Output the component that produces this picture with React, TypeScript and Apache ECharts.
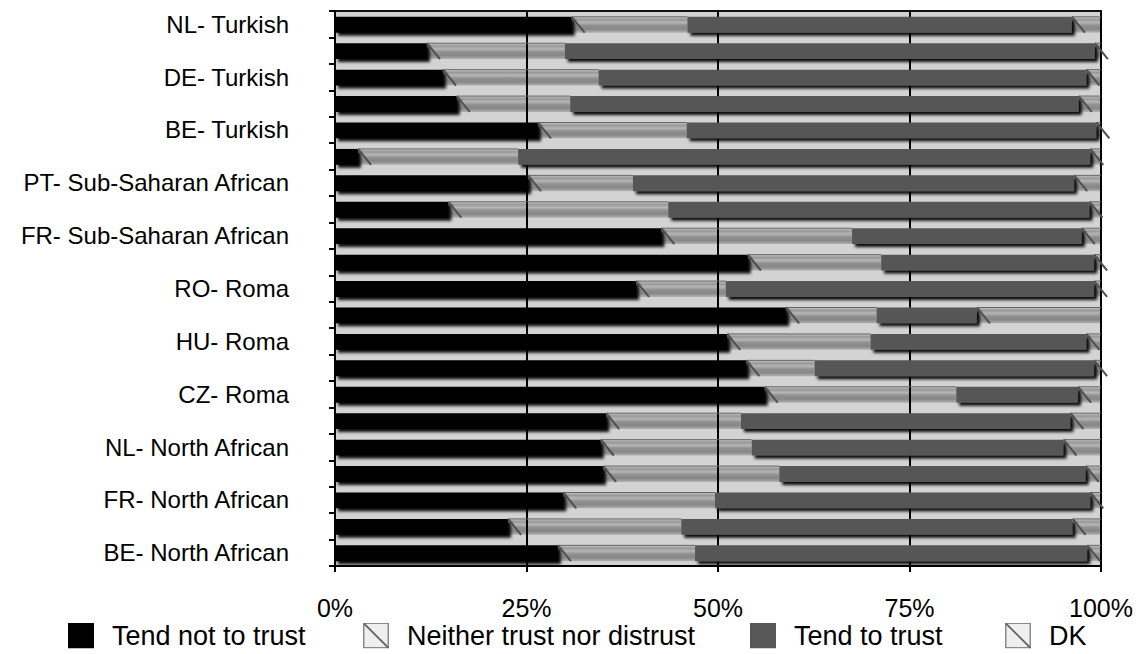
import React, { useEffect, useRef } from "react";
import * as echarts from "echarts";

// Groups, listed bottom to top (index 0 sits at the bottom of the axis)
const categories = [
  "BE- North African",
  "ES- North African",
  "FR- North African",
  "IT- North African",
  "NL- North African",
  "BG- Roma",
  "CZ- Roma",
  "EL- Roma",
  "HU- Roma",
  "PL- Roma",
  "RO- Roma",
  "SK- Roma",
  "FR- Sub-Saharan African",
  "IE- Sub-Saharan African",
  "PT- Sub-Saharan African",
  "AT- Turkish",
  "BE- Turkish",
  "BG- Turkish",
  "DE- Turkish",
  "DK- Turkish",
  "NL- Turkish",
];

// Shares of respondents (%) per answer, same order as categories
const tendNotToTrust = [
  29.1, 22.6, 29.8, 35.0, 34.7, 35.4, 56.1, 53.7, 51.2, 58.9, 39.3, 53.9, 42.6,
  14.8, 25.2, 3.0, 26.5, 15.9, 14.1, 12.0, 30.9,
];
const neitherTrustNorDistrust = [
  17.9, 22.6, 19.8, 23.0, 19.7, 17.6, 25.0, 8.9, 18.7, 11.8, 11.7, 17.4, 24.9,
  28.7, 13.7, 20.9, 19.4, 14.8, 20.3, 18.0, 15.1,
];
const tendToTrust = [
  51.2, 51.1, 49.0, 40.0, 40.7, 43.0, 15.9, 36.5, 28.2, 13.1, 48.1, 27.8, 30.0,
  55.0, 57.6, 74.7, 53.5, 66.4, 63.7, 69.2, 50.2,
];
const dontKnow = [
  1.8, 3.7, 1.4, 2.0, 4.9, 4.0, 3.0, 0.9, 1.9, 16.2, 0.9, 0.9, 2.5, 1.5, 3.5,
  1.4, 0.6, 2.9, 1.9, 0.8, 3.8,
];

const seriesNames = [
  "Tend not to trust",
  "Neither trust nor distrust",
  "Tend to trust",
  "DK",
];
const xTickValues = [0, 25, 50, 75, 100];

const FONT = "'Liberation Sans', Arial, Helvetica, sans-serif";
const BAR_RATIO = 0.6;

const svgIcon = (inner: string) =>
  "image://data:image/svg+xml;charset=utf-8," +
  encodeURIComponent(
    `<svg xmlns="http://www.w3.org/2000/svg" width="39" height="26" viewBox="0 0 39 26">${inner}</svg>`
  );

const solidIcon = (fill: string) =>
  svgIcon(`<rect x="0" y="0" width="26" height="26" fill="${fill}"/>`);

const hatchIcon = svgIcon(
  `<rect x="0.75" y="0.75" width="24.5" height="24.5" fill="#efefef" stroke="#8a8a8a" stroke-width="1.5"/>` +
    `<line x1="1" y1="1" x2="25.5" y2="25.5" stroke="#666" stroke-width="1.8"/>`
);

function barRect(api: any) {
  const cat = api.value(0);
  const start = api.coord([api.value(1), cat]);
  const end = api.coord([api.value(2), cat]);
  const h = api.size([0, 1])[1] * BAR_RATIO;
  return { x: start[0], y: start[1] - h / 2 + 0.5, width: end[0] - start[0], height: h };
}

const renderSolid = (fill: string) => (_params: any, api: any) => {
  const r = barRect(api);
  if (r.width <= 0) return null;
  return {
    type: "rect",
    shape: r,
    style: {
      fill,
      shadowBlur: 3,
      shadowOffsetX: 3,
      shadowOffsetY: 3,
      shadowColor: "rgba(0,0,0,0.95)",
    },
  };
};

// Banded grey fill for the "neither" and "DK" segments, translucent so the grid shows through
const hatchFill = new echarts.graphic.LinearGradient(0, 0, 0, 1, [
  { offset: 0, color: "rgba(0,0,0,0.06)" },
  { offset: 0.18, color: "rgba(0,0,0,0.28)" },
  { offset: 0.36, color: "rgba(0,0,0,0.14)" },
  { offset: 0.55, color: "rgba(0,0,0,0.32)" },
  { offset: 0.78, color: "rgba(0,0,0,0.36)" },
  { offset: 1, color: "rgba(0,0,0,0.16)" },
]);

const renderHatched = (_params: any, api: any) => {
  const r = barRect(api);
  if (r.width <= 0) return null;
  return {
    type: "group",
    children: [
      { type: "rect", shape: r, style: { fill: hatchFill } },
      {
        type: "line",
        shape: { x1: r.x, y1: r.y, x2: r.x + r.width, y2: r.y },
        style: { stroke: "#666", lineWidth: 1 },
      },
      {
        type: "line",
        shape: { x1: r.x, y1: r.y, x2: r.x + 13, y2: r.y + r.height },
        style: { stroke: "#505050", lineWidth: 2 },
      },
    ],
  };
};

function stackedSegments(values: number[][]) {
  const out: number[][][] = values.map(() => []);
  categories.forEach((_c, i) => {
    let acc = 0;
    values.forEach((vals, s) => {
      out[s].push([i, acc, acc + vals[i]]);
      acc += vals[i];
    });
  });
  return out;
}

export default function App() {
  const ref = useRef<HTMLDivElement>(null);

  useEffect(() => {
    if (!ref.current) return;
    const chart = echarts.init(ref.current, undefined, { renderer: "svg" });
    const segs = stackedSegments([
      tendNotToTrust,
      neitherTrustNorDistrust,
      tendToTrust,
      dontKnow,
    ]);
    const renderers = [
      renderSolid("#000000"),
      renderHatched,
      renderSolid("#575757"),
      renderHatched,
    ];
    const colors = ["#000000", "#d8d8d8", "#575757", "#d8d8d8"];
    const icons = [solidIcon("#000000"), hatchIcon, solidIcon("#575757"), hatchIcon];
    const legendLeft = [68, 363, 750, 1005];

    chart.setOption({
      animation: false,
      textStyle: { fontFamily: FONT, color: "#000" },
      grid: {
        left: 335,
        right: 43,
        top: 11,
        bottom: 88,
        show: true,
        backgroundColor: "#d3d3d3",
        borderColor: "#111",
        borderWidth: 2,
      },
      xAxis: {
        type: "value",
        min: 0,
        max: 100,
        interval: 25,
        axisLine: { show: true, lineStyle: { color: "#000", width: 2 } },
        axisTick: { show: true, length: 6, lineStyle: { color: "#000", width: 2 } },
        axisLabel: {
          fontSize: 25,
          color: "#000",
          fontFamily: FONT,
          margin: 29,
          formatter: (v: number) => (xTickValues.includes(v) ? `${v}%` : ""),
        },
        splitLine: { show: true, lineStyle: { color: "#000", width: 2 } },
      },
      yAxis: {
        type: "category",
        data: categories,
        axisLine: { show: true, lineStyle: { color: "#000", width: 2 } },
        axisTick: {
          show: true,
          interval: 0,
          length: 6,
          lineStyle: { color: "#000", width: 2 },
        },
        axisLabel: {
          interval: 1,
          fontSize: 24,
          color: "#000",
          fontFamily: FONT,
          margin: 46,
        },
        splitLine: { show: false },
      },
      legend: seriesNames.map((name, i) => ({
        left: legendLeft[i],
        top: 622,
        padding: 0,
        itemWidth: 39,
        itemHeight: 26,
        selectedMode: false,
        data: [{ name, icon: icons[i] }],
        textStyle: { fontSize: 27, color: "#000", fontFamily: FONT },
      })),
      series: seriesNames.map((name, i) => ({
        type: "custom",
        name,
        coordinateSystem: "cartesian2d",
        encode: { x: [1, 2], y: 0 },
        itemStyle: { color: colors[i] },
        renderItem: renderers[i],
        data: segs[i],
      })),
    });
    return () => chart.dispose();
  }, []);

  return (
    <div
      ref={ref}
      style={{ position: "fixed", left: 0, top: 0, width: 1144, height: 654, background: "#fff" }}
    />
  );
}
